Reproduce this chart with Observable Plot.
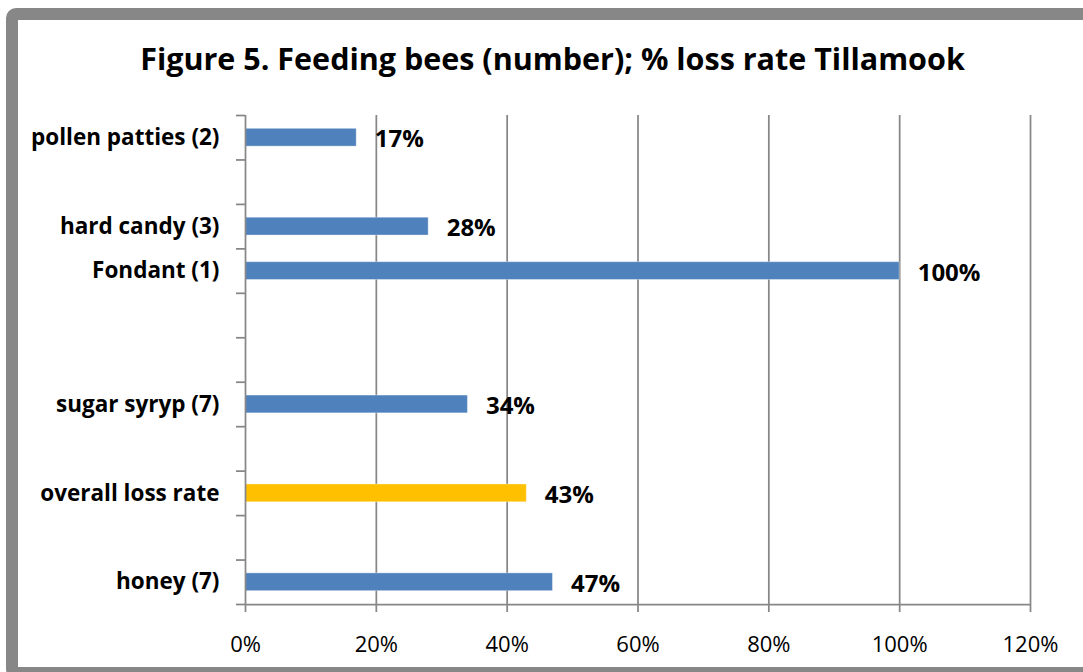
<!DOCTYPE html>
<html>
<head>
<meta charset="utf-8">
<script src="https://cdn.jsdelivr.net/npm/d3@7"></script>
<script src="https://cdn.jsdelivr.net/npm/@observablehq/plot@0.6"></script>
<style>
  html, body { margin: 0; padding: 0; background: #fff; }
  body { width: 1083px; height: 672px; position: relative; overflow: hidden; font-family: "Open Sans", sans-serif; }
  #frame {
    position: absolute; left: 6px; top: 8px; width: 1110px; height: 671px;
    box-sizing: border-box; border: 12px solid #878787; border-radius: 10px;
  }
  #title {
    position: absolute; left: 0; top: 38px; width: 1105px; text-align: center;
    font-weight: 700; font-size: 30.5px; line-height: 40px; color: #000;
  }
  #chart { position: absolute; left: 0; top: 90px; }
</style>
</head>
<body>
<div id="frame"></div>
<div id="title">Figure 5. Feeding bees (number); % loss rate Tillamook</div>
<div id="chart"></div>
<script>
// Rows of the sheet, top to bottom; blank rows keep their slot on the axis.
const categories = ["pollen patties (2)", "", "hard candy (3)", "Fondant (1)", "", "", "sugar syryp (7)", "", "overall loss rate", "", "honey (7)"];
const lossRates = [0.17, null, 0.28, 1.00, null, null, 0.34, null, 0.43, null, 0.47];
const barColors = ["#4F81BD", null, "#4F81BD", "#4F81BD", null, null, "#4F81BD", null, "#FFC000", null, "#4F81BD"];
const xTicks = [0, 0.2, 0.4, 0.6, 0.8, 1.0, 1.2];

const rows = categories.map((name, i) => ({name, slot: i, value: lossRates[i], color: barColors[i]}));
const bars = rows.filter(d => d.value != null);
const slotCenters = categories.map((_, i) => i + 0.5);
const slotEdges = d3.range(categories.length + 1);

const gray = "#878787";
const pct = d3.format(".0%");

const plot = Plot.plot({
  width: 1083,
  height: 582,
  marginLeft: 245,
  marginRight: 53,
  marginTop: 25,
  marginBottom: 68,
  style: {fontFamily: "'Open Sans', sans-serif", color: "#000", background: "transparent"},
  x: {domain: [0, 1.2]},
  y: {domain: [0, categories.length], reverse: true},
  marks: [
    Plot.gridX(xTicks.slice(1), {stroke: gray, strokeOpacity: 1, strokeWidth: 1.75}),
    Plot.rectX(bars, {
      x1: 0, x2: "value",
      y1: d => d.slot + 0.3, y2: d => d.slot + 0.7,
      fill: d => d.color, stroke: "#fff", strokeOpacity: 0.35, strokeWidth: 1
    }),
    Plot.text(bars, {
      x: "value", y: d => d.slot + 0.5, text: d => pct(d.value),
      textAnchor: "start", dx: 18, dy: 2,
      fontSize: 24, fontWeight: 700, fill: "#000", letterSpacing: -0.5
    }),
    // category names at slot centres
    Plot.axisY(slotCenters, {
      tickSize: 0, tickPadding: 26,
      tickFormat: v => categories[Math.floor(v)],
      fontSize: 22.5, fontWeight: 700, label: null
    }),
    // tick marks at slot boundaries
    Plot.axisY(slotEdges, {tickSize: 9, tickFormat: null, text: null, stroke: gray, strokeWidth: 1.75, label: null}),
    Plot.axisX(xTicks, {
      tickSize: 8, tickPadding: 24, tickFormat: pct,
      fontSize: 22, stroke: gray, strokeWidth: 1.75, label: null
    }),
    Plot.ruleX([0], {stroke: gray, strokeWidth: 1.75}),
    Plot.ruleY([categories.length], {stroke: gray, strokeWidth: 1.75})
  ]
});
document.getElementById("chart").append(plot);
</script>
</body>
</html>
